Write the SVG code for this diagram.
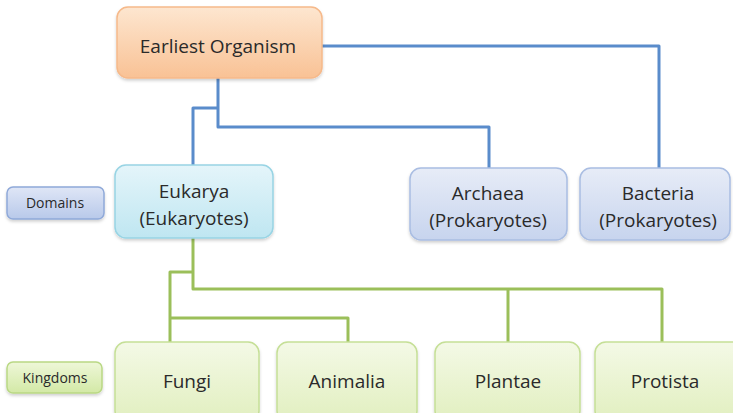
<svg xmlns="http://www.w3.org/2000/svg" width="733" height="413" viewBox="0 0 733 413">
<defs>
<linearGradient id="gOrange" x1="0" y1="0" x2="0" y2="1"><stop offset="0" stop-color="#fde6d0"/><stop offset="1" stop-color="#f9c295"/></linearGradient>
<linearGradient id="gCyan" x1="0" y1="0" x2="0" y2="1"><stop offset="0" stop-color="#e4f5fa"/><stop offset="1" stop-color="#bfe6f1"/></linearGradient>
<linearGradient id="gBlue" x1="0" y1="0" x2="0" y2="1"><stop offset="0" stop-color="#e7ecf7"/><stop offset="1" stop-color="#c7d4ee"/></linearGradient>
<linearGradient id="gBlueL" x1="0" y1="0" x2="0" y2="1"><stop offset="0" stop-color="#dfe6f6"/><stop offset="1" stop-color="#b8c9ea"/></linearGradient>
<linearGradient id="gGreen" x1="0" y1="0" x2="0" y2="1"><stop offset="0" stop-color="#f4f9e6"/><stop offset="1" stop-color="#e1efbf"/></linearGradient>
<linearGradient id="gGreenL" x1="0" y1="0" x2="0" y2="1"><stop offset="0" stop-color="#eef7d8"/><stop offset="1" stop-color="#d3e9a6"/></linearGradient>
<filter id="sh" x="-10%" y="-10%" width="120%" height="130%"><feDropShadow dx="0" dy="2" stdDeviation="1.5" flood-color="#000" flood-opacity="0.18"/></filter>
</defs>
<style>
.box{filter:url(#sh);stroke-width:1.5}
.t{font-family:"Open Sans","Liberation Sans",sans-serif;font-size:19px;fill:#2a2a2a;text-anchor:middle}
.s{font-family:"Open Sans","Liberation Sans",sans-serif;font-size:14px;fill:#2a2a2a;text-anchor:middle}
.blue{fill:none;stroke:#5a8ccb;stroke-width:3;stroke-linejoin:round}
.green{fill:none;stroke:#9bbf5a;stroke-width:3;stroke-linejoin:round}
</style>
<g id="connectors">
<path class="blue" d="M322 46 H659 V168"/>
<path class="blue" d="M218 78 V127 H489 V168"/>
<path class="blue" d="M218 108 H193 V165"/>
<path class="green" d="M193 238 V289 H662 V342"/>
<path class="green" d="M508 289 V342"/>
<path class="green" d="M193 272 H170 V342"/>
<path class="green" d="M170 318 H348 V342"/>
</g>
<g id="earliest">
<rect class="box" x="117" y="7" width="205" height="71" rx="11" fill="url(#gOrange)" stroke="#f6b98a"/>
<text class="t" x="218" y="53">Earliest Organism</text>
</g>
<g id="domains">
<rect class="box" x="7" y="187" width="97" height="32" rx="6" fill="url(#gBlueL)" stroke="#8fa9d9"/>
<text class="s" x="55" y="208">Domains</text>
</g>
<g id="eukarya">
<rect class="box" x="115" y="165" width="158" height="73" rx="11" fill="url(#gCyan)" stroke="#98d4e4"/>
<text class="t" x="194" y="198">Eukarya</text>
<text class="t" x="194" y="225">(Eukaryotes)</text>
</g>
<g id="archaea">
<rect class="box" x="410" y="168" width="157" height="72" rx="11" fill="url(#gBlue)" stroke="#a9bde2"/>
<text class="t" x="488" y="200">Archaea</text>
<text class="t" x="488" y="227">(Prokaryotes)</text>
</g>
<g id="bacteria">
<rect class="box" x="580" y="168" width="150" height="72" rx="11" fill="url(#gBlue)" stroke="#a9bde2"/>
<text class="t" x="658" y="200">Bacteria</text>
<text class="t" x="658" y="227">(Prokaryotes)</text>
</g>
<g id="kingdoms">
<rect class="box" x="7" y="362" width="95" height="31" rx="6" fill="url(#gGreenL)" stroke="#b9d884"/>
<text class="s" x="55" y="383">Kingdoms</text>
</g>
<g id="fungi">
<rect class="box" x="115" y="342" width="144" height="80" rx="11" fill="url(#gGreen)" stroke="#c5df96"/>
<text class="t" x="187" y="388">Fungi</text>
</g>
<g id="animalia">
<rect class="box" x="277" y="342" width="140" height="80" rx="11" fill="url(#gGreen)" stroke="#c5df96"/>
<text class="t" x="347" y="388">Animalia</text>
</g>
<g id="plantae">
<rect class="box" x="435" y="342" width="145" height="80" rx="11" fill="url(#gGreen)" stroke="#c5df96"/>
<text class="t" x="508" y="388">Plantae</text>
</g>
<g id="protista">
<rect class="box" x="595" y="342" width="150" height="80" rx="11" fill="url(#gGreen)" stroke="#c5df96"/>
<text class="t" x="665" y="388">Protista</text>
</g>
</svg>
